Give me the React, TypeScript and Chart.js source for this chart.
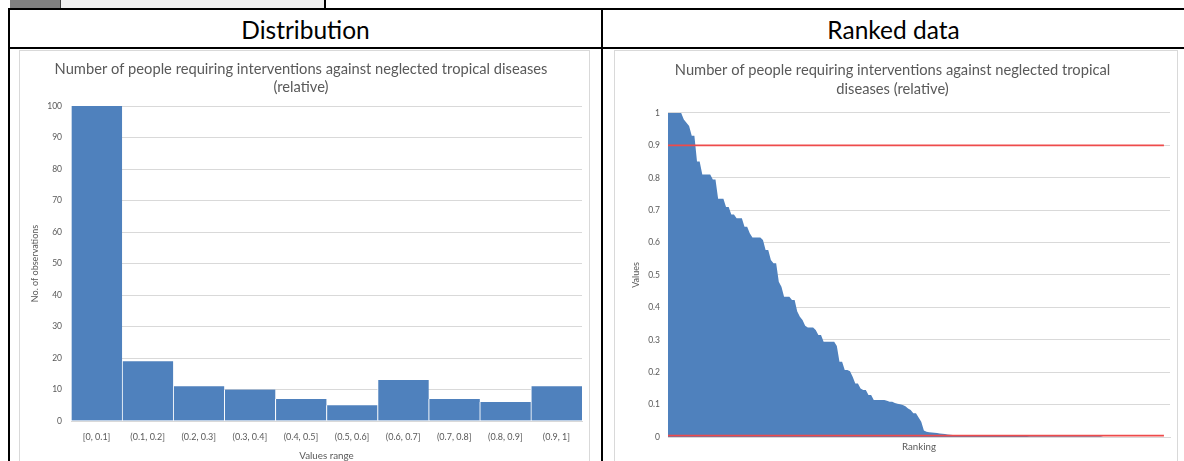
import React, { useEffect, useRef } from "react";
import { Chart, registerables } from "chart.js";

Chart.register(...registerables);

const FONT = "Lato";
const BLUE = "#4F81BD";
const RED = "#EE4B4B";
const GRID = "#D9D9D9";
const TEXT = "#595959";

const distTitle = [
  "Number of people requiring interventions against neglected tropical diseases",
  "(relative)",
];
const rankTitle = [
  "Number of people requiring interventions against neglected tropical",
  "diseases (relative)",
];

const binLabels = [
  "[0, 0.1]",
  "(0.1, 0.2]",
  "(0.2, 0.3]",
  "(0.3, 0.4]",
  "(0.4, 0.5]",
  "(0.5, 0.6]",
  "(0.6, 0.7]",
  "(0.7, 0.8]",
  "(0.8, 0.9]",
  "(0.9, 1]",
];
const binCounts = [100, 19, 11, 10, 7, 5, 13, 7, 6, 11];

const valueTickLabels = ["0", "0.1", "0.2", "0.3", "0.4", "0.5", "0.6", "0.7", "0.8", "0.9", "1"];

const rankedValues = [
  1, 1, 1, 1, 1, 1, 0.98, 0.97, 0.96, 0.93, 0.93,
  0.85, 0.85, 0.81, 0.81, 0.81, 0.81,
  0.795, 0.795, 0.735, 0.735, 0.735, 0.71, 0.71,
  0.687, 0.687, 0.675, 0.675, 0.675, 0.649, 0.649, 0.629, 0.616, 0.616, 0.616, 0.616, 0.608,
  0.577, 0.577, 0.546, 0.536, 0.536,
  0.479, 0.464, 0.433, 0.433, 0.433, 0.423, 0.423,
  0.387, 0.371, 0.361, 0.343, 0.338, 0.338, 0.338, 0.33, 0.315, 0.315,
  0.294, 0.294, 0.294, 0.294, 0.294, 0.281, 0.232, 0.232, 0.207, 0.207, 0.203,
  0.186, 0.165, 0.165, 0.15, 0.145, 0.145, 0.13, 0.13, 0.114, 0.114, 0.114, 0.114, 0.114, 0.112, 0.109, 0.109, 0.105, 0.103, 0.101,
  0.099, 0.095, 0.088, 0.083, 0.073, 0.073, 0.06, 0.047,
  0.02, 0.016, 0.015, 0.014, 0.013, 0.012, 0.011, 0.01, 0.009, 0.008,
  0.007, 0.006, 0.006, 0.005, 0.005, 0.004, 0.004, 0.004, 0.003, 0.003,
  0.003, 0.003, 0.003, 0.003, 0.003, 0.003, 0.003, 0.003, 0.003, 0.003,
  0.003, 0.003, 0.003, 0.003, 0.003, 0.003, 0.003, 0.003, 0.003, 0.003,
  0.002, 0.002, 0.002, 0.002, 0.002, 0.002, 0.002, 0.002, 0.002, 0.002,
  0.002, 0.002, 0.002, 0.002, 0.002, 0.002, 0.002, 0.002, 0.002, 0.002,
  0.002, 0.002, 0.002, 0.002, 0.002, 0.002, 0.002, 0.002,
  0, 0, 0, 0, 0, 0, 0, 0, 0, 0, 0, 0,
  0, 0, 0, 0, 0, 0, 0, 0, 0, 0, 0, 0,
];

const upperThreshold = 0.9;
const lowerThreshold = 0.004;

function DistributionChart() {
  const ref = useRef<HTMLCanvasElement>(null);
  useEffect(() => {
    const chart = new Chart(ref.current!, {
      type: "bar",
      data: {
        labels: binLabels,
        datasets: [
          {
            data: binCounts,
            backgroundColor: BLUE,
            borderColor: "#ffffff",
            borderWidth: { left: 1, right: 0, top: 0, bottom: 0 },
            borderSkipped: false,
            categoryPercentage: 1,
            barPercentage: 1,
          },
        ],
      },
      options: {
        responsive: false,
        animation: false,
        layout: { padding: { left: 0, right: 7, top: 0, bottom: 0 } },
        plugins: {
          legend: { display: false },
          tooltip: { enabled: false },
          title: {
            display: true,
            text: distTitle,
            color: TEXT,
            font: { family: FONT, size: 14.7, weight: "normal", lineHeight: 1.2245 },
            padding: { top: 9, bottom: 10 },
          },
        },
        scales: {
          x: {
            grid: { display: false, drawTicks: false },
            border: { display: true, color: GRID },
            ticks: {
              color: TEXT,
              font: { family: FONT, size: 9 },
              padding: 11,
              maxRotation: 0,
              autoSkip: false,
            },
            title: {
              display: true,
              text: "Values range",
              color: TEXT,
              font: { family: FONT, size: 9.8 },
              padding: { top: 4, bottom: 2.5 },
            },
            afterFit: (s: any) => {
              s.height = 43;
            },
          },
          y: {
            min: 0,
            max: 100,
            ticks: { stepSize: 10, color: TEXT, font: { family: FONT, size: 8.5 }, padding: 9 },
            grid: { color: GRID, drawTicks: false },
            border: { display: false },
            title: {
              display: true,
              text: "No. of observations",
              color: TEXT,
              font: { family: FONT, size: 9 },
              padding: { top: 9.6, bottom: 0 },
            },
            afterFit: (s: any) => {
              s.width = 51;
            },
          },
        },
      },
    } as any);
    return () => chart.destroy();
  }, []);
  return <canvas ref={ref} width={569} height={413} style={{ display: "block", width: 569, height: 413 }} />;
}

function RankedChart() {
  const ref = useRef<HTMLCanvasElement>(null);
  useEffect(() => {
    const pts = rankedValues.map((v, i) => ({ x: i, y: v }));
    const last = rankedValues.length - 1;
    const chart = new Chart(ref.current!, {
      type: "line",
      data: {
        datasets: [
          {
            data: [
              { x: 0, y: upperThreshold },
              { x: last, y: upperThreshold },
            ],
            borderColor: RED,
            borderWidth: 1.8,
            pointRadius: 0,
            fill: false,
            order: 0,
          },
          {
            data: [
              { x: 0, y: lowerThreshold },
              { x: last, y: lowerThreshold },
            ],
            borderColor: RED,
            borderWidth: 1.8,
            pointRadius: 0,
            fill: false,
            order: 0,
          },
          {
            data: pts,
            borderColor: BLUE,
            borderWidth: 0,
            backgroundColor: BLUE,
            pointRadius: 0,
            fill: "origin",
            tension: 0,
            order: 1,
          },
        ],
      },
      options: {
        responsive: false,
        animation: false,
        layout: { padding: { left: 0, right: 7, top: 0, bottom: 0 } },
        plugins: {
          legend: { display: false },
          tooltip: { enabled: false },
          title: {
            display: true,
            text: rankTitle,
            color: TEXT,
            font: { family: FONT, size: 14.7, weight: "normal", lineHeight: 1.2925 },
            padding: { top: 9.5, bottom: 14.5 },
          },
        },
        scales: {
          x: {
            type: "linear",
            min: 0,
            max: 190.3,
            grid: { display: false, drawTicks: false },
            border: { display: true, color: GRID },
            ticks: { display: false },
            title: {
              display: true,
              text: "Ranking",
              color: TEXT,
              font: { family: FONT, size: 9.7 },
              padding: { top: 4, bottom: 3 },
            },
            afterFit: (s: any) => {
              s.height = 405 - 386;
            },
          },
          y: {
            min: 0,
            max: 1,
            ticks: {
              stepSize: 0.1,
              color: TEXT,
              font: { family: FONT, size: 8.5 },
              padding: 8,
              callback: (_v: any, i: number) => valueTickLabels[i],
            },
            grid: { color: GRID, drawTicks: false },
            border: { display: false },
            title: {
              display: true,
              text: "Values",
              color: TEXT,
              font: { family: FONT, size: 9 },
              padding: { top: 15.6, bottom: 0 },
            },
            afterFit: (s: any) => {
              s.width = 53;
            },
          },
        },
      },
    } as any);
    return () => chart.destroy();
  }, []);
  return <canvas ref={ref} width={562} height={405} style={{ display: "block", width: 562, height: 405 }} />;
}

const abs = (l: number, t: number, w: number, h: number, bg: string): React.CSSProperties => ({
  position: "absolute",
  left: l,
  top: t,
  width: w,
  height: h,
  background: bg,
});

const headerStyle = (l: number, w: number): React.CSSProperties => ({
  position: "absolute",
  left: l,
  top: 10,
  width: w,
  height: 38,
  display: "flex",
  alignItems: "center",
  justifyContent: "center",
  fontSize: 24.5,
  color: "#000",
});

export default function App() {
  return (
    <div
      style={{
        position: "absolute",
        left: 0,
        top: 0,
        width: 1184,
        height: 461,
        overflow: "hidden",
        background: "#ffffff",
        fontFamily: FONT,
      }}
    >
      <div style={abs(10, 0, 50, 8, "#808080")} />
      <div style={abs(60, 0, 1, 8, "#404040")} />
      <div style={abs(61, 0, 263, 8, "#F0F0F0")} />
      <div style={abs(324, 0, 2, 8, "#000")} />
      <div style={abs(8, 8, 1176, 2, "#000")} />
      <div style={abs(8, 8, 2, 453, "#000")} />
      <div style={abs(8, 47, 1176, 2, "#000")} />
      <div style={abs(601, 8, 2, 453, "#000")} />
      <div style={headerStyle(10, 591)}>Distribution</div>
      <div style={headerStyle(603, 581)}>Ranked data</div>
      <div
        style={{
          position: "absolute",
          left: 19,
          top: 50,
          width: 571,
          height: 430,
          border: `1px solid ${GRID}`,
          boxSizing: "border-box",
        }}
      >
        <DistributionChart />
      </div>
      <div
        style={{
          position: "absolute",
          left: 614,
          top: 50,
          width: 564,
          height: 430,
          border: `1px solid ${GRID}`,
          boxSizing: "border-box",
        }}
      >
        <RankedChart />
      </div>
    </div>
  );
}
